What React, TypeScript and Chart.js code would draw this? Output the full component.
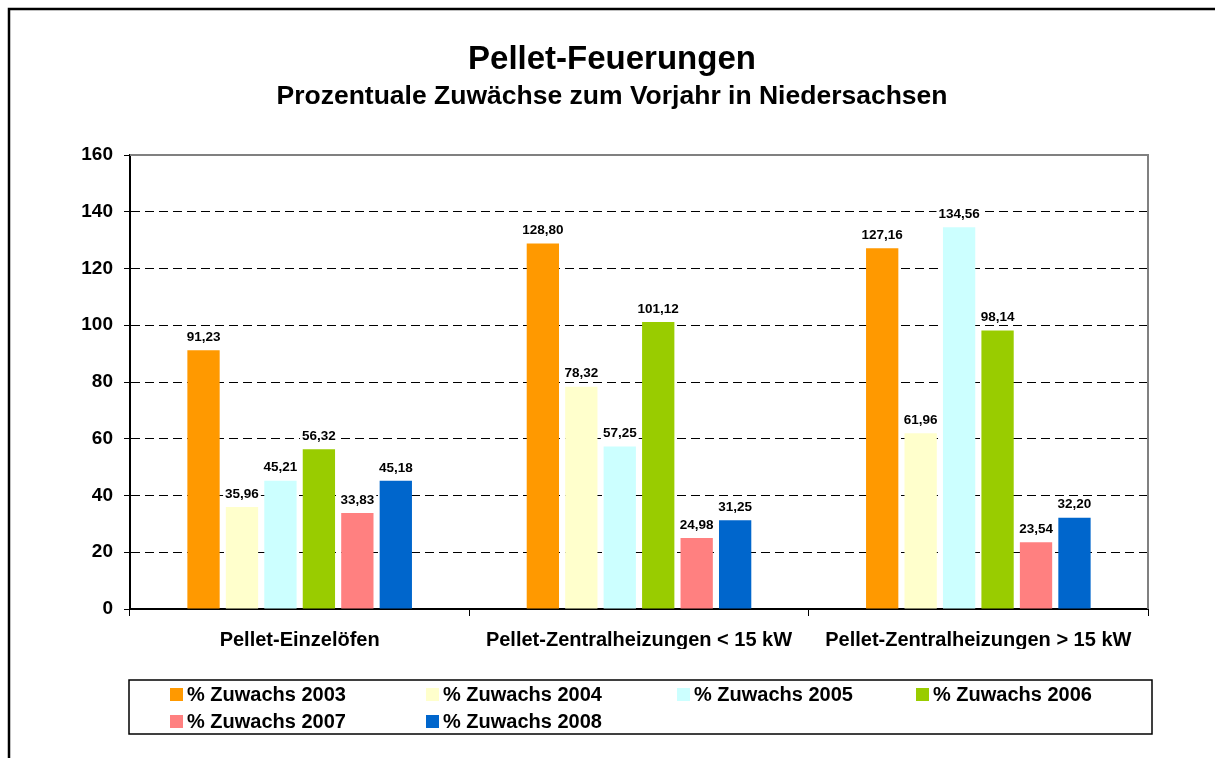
import React, { useEffect, useRef } from "react";
import { Chart, registerables } from "chart.js";

Chart.register(...registerables);

const titleText = "Pellet-Feuerungen";
const subtitleText = "Prozentuale Zuwächse zum Vorjahr in Niedersachsen";
const categories = [
  "Pellet-Einzelöfen",
  "Pellet-Zentralheizungen < 15 kW",
  "Pellet-Zentralheizungen > 15 kW",
];
const seriesLabels = [
  "% Zuwachs 2003",
  "% Zuwachs 2004",
  "% Zuwachs 2005",
  "% Zuwachs 2006",
  "% Zuwachs 2007",
  "% Zuwachs 2008",
];
const zuwachs2003 = [91.23, 128.8, 127.16];
const zuwachs2004 = [35.96, 78.32, 61.96];
const zuwachs2005 = [45.21, 57.25, 134.56];
const zuwachs2006 = [56.32, 101.12, 98.14];
const zuwachs2007 = [33.83, 24.98, 23.54];
const zuwachs2008 = [45.18, 31.25, 32.2];
const seriesColors = ["#FF9900", "#FFFFCC", "#CCFFFF", "#99CC00", "#FF8080", "#0066CC"];
const yTicks = [0, 20, 40, 60, 80, 100, 120, 140, 160];

const FONT = "'Liberation Sans', Arial, sans-serif";

const fmt = (v: number) => v.toFixed(2).replace(".", ",");

const decorPlugin = {
  id: "decor",
  beforeDraw(chart: any) {
    const ctx = chart.ctx;
    ctx.save();
    ctx.fillStyle = "#ffffff";
    ctx.fillRect(0, 0, chart.width, chart.height);
    // outer frame (left + top visible)
    ctx.strokeStyle = "#000";
    ctx.lineWidth = 2.5;
    ctx.beginPath();
    ctx.moveTo(9, chart.height);
    ctx.lineTo(9, 9);
    ctx.lineTo(chart.width, 9);
    ctx.stroke();
    // titles
    ctx.fillStyle = "#000";
    ctx.textAlign = "center";
    ctx.textBaseline = "middle";
    ctx.font = `bold 33px ${FONT}`;
    ctx.fillText(titleText, 612, 60);
    ctx.font = `bold 26.5px ${FONT}`;
    ctx.fillText(subtitleText, 612, 97);
    ctx.restore();
  },
  afterDraw(chart: any) {
    const ctx = chart.ctx;
    const a = chart.chartArea;
    ctx.save();
    // plot area top/right border (gray)
    ctx.strokeStyle = "#808080";
    ctx.lineWidth = 2;
    ctx.beginPath();
    ctx.moveTo(a.left, a.top);
    ctx.lineTo(a.right, a.top);
    ctx.lineTo(a.right, a.bottom);
    ctx.stroke();
    // legend box
    const lx = 129, ly = 680, lw = 1023, lh = 54;
    ctx.fillStyle = "#fff";
    ctx.fillRect(lx, ly, lw, lh);
    ctx.strokeStyle = "#000";
    ctx.lineWidth = 1.5;
    ctx.strokeRect(lx, ly, lw, lh);
    const cols = [170, 426, 677, 916];
    const rows = [694, 721];
    ctx.font = `bold 20px ${FONT}`;
    ctx.textAlign = "left";
    ctx.textBaseline = "middle";
    chart.data.datasets.forEach((ds: any, i: number) => {
      const x = cols[i % 4];
      const y = rows[Math.floor(i / 4)];
      ctx.fillStyle = ds.backgroundColor;
      ctx.fillRect(x, y - 6, 13, 13);
      ctx.fillStyle = "#000";
      ctx.fillText(ds.label, x + 17, y + 1);
    });
    ctx.restore();
  },
  afterDatasetsDraw(chart: any) {
    const ctx = chart.ctx;
    ctx.save();
    ctx.font = `bold 13.5px ${FONT}`;
    ctx.textAlign = "center";
    ctx.textBaseline = "middle";
    chart.data.datasets.forEach((ds: any, i: number) => {
      const meta = chart.getDatasetMeta(i);
      meta.data.forEach((el: any, j: number) => {
        const txt = fmt(ds.data[j]);
        const w = ctx.measureText(txt).width;
        const cy = el.y - 13;
        ctx.fillStyle = "#fff";
        ctx.fillRect(el.x - w / 2 - 2, cy - 7, w + 4, 14);
        ctx.fillStyle = "#000";
        ctx.fillText(txt, el.x, cy);
      });
    });
    ctx.restore();
  },
};

export default function App() {
  const ref = useRef<HTMLCanvasElement | null>(null);
  useEffect(() => {
    document.body.style.margin = "0";
    const values = [zuwachs2003, zuwachs2004, zuwachs2005, zuwachs2006, zuwachs2007, zuwachs2008];
    const chart = new Chart(ref.current as HTMLCanvasElement, {
      type: "bar",
      data: {
        labels: categories,
        datasets: values.map((d, i) => ({
          label: seriesLabels[i],
          data: d,
          backgroundColor: seriesColors[i],
          borderWidth: 0,
          categoryPercentage: 0.68,
          barPercentage: 0.84,
        })),
      },
      options: {
        responsive: false,
        animation: false,
        devicePixelRatio: 1,
        layout: { padding: { left: 10, top: 155, right: 67, bottom: 109 } },
        plugins: {
          legend: { display: false },
          title: { display: false },
          tooltip: { enabled: false },
        },
        scales: {
          x: {
            afterFit: (s: any) => { s.height = 40; },
            grid: {
              offset: true,
              drawOnChartArea: false,
              drawTicks: true,
              tickLength: 7,
              tickColor: "#000",
              tickWidth: 1,
            },
            border: { display: true, color: "#000", width: 2 },
            ticks: {
              color: "#000",
              padding: 12,
              font: { family: FONT, size: 20, weight: "bold" },
              maxRotation: 0,
            },
          },
          y: {
            min: 0,
            max: 160,
            afterFit: (s: any) => { s.width = 120; },
            afterBuildTicks: (s: any) => { s.ticks = yTicks.map((v) => ({ value: v })); },
            grid: {
              color: (c: any) => (c.tick && (c.tick.value === 0 || c.tick.value === 160) ? "rgba(0,0,0,0)" : "#000"),
              lineWidth: 1,
              tickColor: "#000",
              tickLength: 6,
              tickWidth: 1,
              tickBorderDash: [],
            },
            border: { display: true, color: "#000", width: 2, dash: [9, 5] },
            ticks: {
              color: "#000",
              padding: 11,
              font: { family: FONT, size: 19, weight: "bold" },
            },
          },
        },
      },
      plugins: [decorPlugin],
    } as any);
    return () => chart.destroy();
  }, []);
  return <canvas ref={ref} width={1215} height={758} style={{ display: "block" }} />;
}
